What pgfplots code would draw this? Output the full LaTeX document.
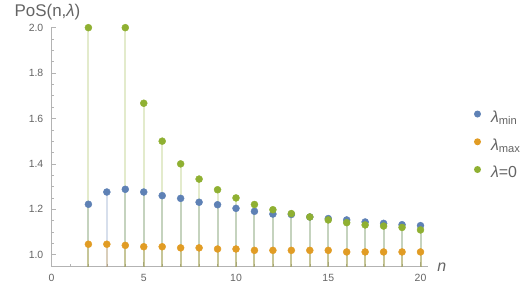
\documentclass[border=0pt]{standalone}
\usepackage{fontspec}
\setmainfont{Liberation Sans}
\usepackage{pgfplots}
\usepackage{pgfplotstable}
\pgfplotsset{compat=1.18}
\definecolor{mblue}{RGB}{94,129,181}
\definecolor{morange}{RGB}{225,156,36}
\definecolor{mgreen}{RGB}{143,176,50}
\definecolor{axgray}{RGB}{179,179,179}
\definecolor{txtgray}{RGB}{100,100,100}
\pgfplotstableread{
n lmin lmax lzero
2 1.222 1.046 2.000
3 1.276 1.046 nan
4 1.288 1.041 2.000
5 1.276 1.035 1.667
6 1.260 1.035 1.500
7 1.248 1.030 1.400
8 1.231 1.030 1.333
9 1.220 1.025 1.286
10 1.204 1.025 1.250
11 1.191 1.019 1.221
12 1.179 1.019 1.198
13 1.177 1.019 1.181
14 1.166 1.019 1.166
15 1.159 1.019 1.153
16 1.153 1.012 1.141
17 1.144 1.012 1.131
18 1.138 1.012 1.126
19 1.132 1.012 1.120
20 1.128 1.012 1.109
}\data
\begin{document}
\begin{tikzpicture}
\begin{axis}[
  name=ax,
  x=18.45bp, y=227bp,
  xmin=0, xmax=20.4, ymin=0.947, ymax=2.005,
  axis x line*=bottom, axis y line*=left,
  axis line style={axgray, line width=0.6bp},
  every axis plot/.append style={line cap=butt},
  xtick={0,5,10,15,20}, minor xtick={1,2,3,4,6,7,8,9,11,12,13,14,16,17,18,19},
  ytick={1.0,1.2,1.4,1.6,1.8,2.0}, minor ytick={0.95,1.05,1.1,1.15,1.25,1.3,1.35,1.45,1.5,1.55,1.65,1.7,1.75,1.85,1.9,1.95},
  tick align=inside,
  major tick length=4.5bp, minor tick length=2.5bp,
  tick style={axgray, line width=0.6bp},
  yticklabel style={/pgf/number format/fixed, /pgf/number format/fixed zerofill, /pgf/number format/precision=1, font=\fontsize{10.5}{12}\selectfont, text=txtgray, inner sep=0pt, xshift=-8bp},
  xticklabel style={font=\fontsize{10.5}{12}\selectfont, text=txtgray, inner sep=0pt, yshift=-7.5bp},
  /pgf/number format/assume math mode=true,
  clip mode=individual,
  legend image code/.code={\fill[#1, draw=none] (0bp,4.5bp) circle (3.5bp);},
  legend style={at={(1.122,0.503)}, anchor=west, draw=none, fill=none, inner sep=0pt,
    font=\fontsize{16}{18}\selectfont, text=txtgray, row sep=12.5bp,
    nodes={inner sep=0pt, text height=11bp, text depth=3.5bp},
    /tikz/every odd column/.append style={column sep=10bp}},
  legend cell align=left,
]
\addplot[ycomb, mblue, draw opacity=0.25, line width=2bp, forget plot] table[x=n, y=lmin] {\data};
\addplot[ycomb, morange, draw opacity=0.25, line width=2bp, forget plot] table[x=n, y=lmax] {\data};
\addplot[ycomb, mgreen, draw opacity=0.25, line width=2bp, forget plot, unbounded coords=discard] table[x=n, y=lzero] {\data};
\addplot[only marks, mark=*, mark size=3.5bp, mblue, mark options={draw=none, fill=mblue}] table[x=n, y=lmin] {\data};
\addlegendentry{\textit{λ}\textsubscript{min}}
\addplot[only marks, mark=*, mark size=3.5bp, morange, mark options={draw=none, fill=morange}] table[x=n, y=lmax] {\data};
\addlegendentry{\textit{λ}\textsubscript{max}}
\addplot[only marks, mark=*, mark size=3.5bp, mgreen, mark options={draw=none, fill=mgreen}, unbounded coords=discard] table[x=n, y=lzero] {\data};
\addlegendentry{\textit{λ}=0}
\end{axis}
\node[anchor=base, text=txtgray, font=\fontsize{17}{20}\selectfont] at ([xshift=-4bp, yshift=10bp]ax.north west) {PoS(n,\textit{λ})};
\node[anchor=base, text=txtgray, font=\fontsize{16}{18}\selectfont\itshape] at ([xshift=14bp, yshift=-4.3bp]ax.south east) {n};
\path[use as bounding box] ([shift={(-51.5bp,-22.3bp)}]ax.south west) rectangle ++(532bp,289bp);
\end{tikzpicture}
\end{document}
